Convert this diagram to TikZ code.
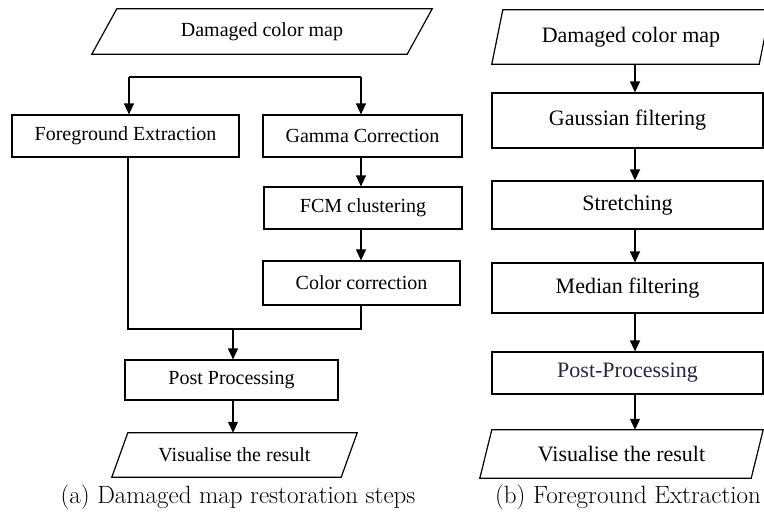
\documentclass[tikz,border=0pt]{standalone}
\usepackage{fontspec}
\usepackage{tikz}
\usetikzlibrary{arrows.meta}
\newfontfamily\boxfont{Liberation Serif}
\definecolor{PostInk}{HTML}{2B2340}

\begin{document}
\begin{tikzpicture}[x=1pt,y=-1pt,
        line/.style={line width=1.2pt},
        arr/.style={line width=1.2pt,-{Triangle[length=11pt,width=10pt]}},
        boxA/.style={draw,line width=1.2pt,inner sep=0pt,font=\boxfont\fontsize{20}{24}\selectfont},
        ioA/.style={inner sep=0pt,font=\boxfont\fontsize{20}{24}\selectfont},
        boxB/.style={draw,line width=1.2pt,inner sep=0pt,font=\boxfont\fontsize{22}{26}\selectfont},
        ioB/.style={inner sep=0pt,font=\boxfont\fontsize{22}{26}\selectfont},
        captext/.style={inner sep=0pt,font=\fontsize{25}{30}\selectfont}]
        \useasboundingbox (0,0) rectangle (764,514);

        % (a) restoration steps
        \node[ioA, minimum width=315pt, minimum height=45pt] (dmgA) at (262,31.5) {Damaged color map};
        \draw[line] ([xshift=-12.5pt]dmgA.south west) -- ([xshift=12.5pt]dmgA.north west) -- ([xshift=12.5pt]dmgA.north east) -- ([xshift=-12.5pt]dmgA.south east) -- cycle;
        \node[boxA, minimum width=227pt, minimum height=42pt] (fgx) at (125.5,136) {Foreground Extraction};
        \node[boxA, minimum width=199pt, minimum height=42pt] (gam) at (362.5,136) {Gamma Correction};
        \node[boxA, minimum width=198pt, minimum height=42pt] (fcm) at (363,208) {FCM clustering};
        \node[boxA, minimum width=197pt, minimum height=44pt] (colc) at (361.5,283) {Color correction};
        \node[boxA, minimum width=213pt, minimum height=40pt] (postA) at (231.5,380) {Post Processing};
        \node[ioA, minimum width=229pt, minimum height=44pt] (visA) at (234.5,455) {Visualise the result};
        \draw[line] ([xshift=-8pt]visA.south west) -- ([xshift=8pt]visA.north west) -- ([xshift=8pt]visA.north east) -- ([xshift=-8pt]visA.south east) -- cycle;

        \coordinate (splitL) at (129,77);
        \coordinate (splitR) at (361,77);
        \coordinate (joinL) at (128,329);
        \coordinate (joinM) at (233,329);

        \draw[line] (splitL) -- (splitR);
        \draw[arr] (splitL) -- (splitL |- fgx.north);
        \draw[arr] (splitR) -- (splitR |- gam.north);
        \draw[arr] (splitR |- gam.south) -- (splitR |- fcm.north);
        \draw[arr] (splitR |- fcm.south) -- (splitR |- colc.north);
        \draw[line] (splitR |- colc.south) |- (joinL) -- (joinL |- fgx.south);
        \draw[arr] (joinM) -- (joinM |- postA.north);
        \draw[arr] (joinM |- postA.south) -- (joinM |- visA.north);

        % (b) foreground extraction
        \coordinate (axisB) at (635,0);
        \node[ioB, minimum width=267pt, minimum height=54pt] (dmgB) at (631,37) {Damaged color map};
        \draw[line] ([xshift=-5.5pt]dmgB.south west) -- ([xshift=5.5pt]dmgB.north west) -- ([xshift=5.5pt]dmgB.north east) -- ([xshift=-5.5pt]dmgB.south east) -- cycle;
        \node[boxB, minimum width=271pt, minimum height=55pt] (gauss) at (627.5,120.5) {Gaussian filtering};
        \node[boxB, minimum width=271pt, minimum height=48pt] (stretch) at (627.5,205) {Stretching};
        \node[boxB, minimum width=271pt, minimum height=50pt] (median) at (627.5,288) {Median filtering};
        \node[boxB, minimum width=271pt, minimum height=42pt] (postB) at (627.5,373) {\color{PostInk}Post-Processing};
        \node[ioB, minimum width=271pt, minimum height=48pt] (visB) at (621.5,454) {Visualise the result};
        \draw[line] ([xshift=-6pt]visB.south west) -- ([xshift=6pt]visB.north west) -- ([xshift=6pt]visB.north east) -- ([xshift=-6pt]visB.south east) -- cycle;

        \foreach \a/\b in {dmgB/gauss, gauss/stretch, stretch/median, median/postB, postB/visB}
          \draw[arr] (axisB |- \a.south) -- (axisB |- \b.north);

        % captions
        \node[captext] (capA) at (238,497) {(a) Damaged map restoration steps};
        \node[captext] (capB) at (628,497) {(b) Foreground Extraction};
      \end{tikzpicture}
\end{document}
